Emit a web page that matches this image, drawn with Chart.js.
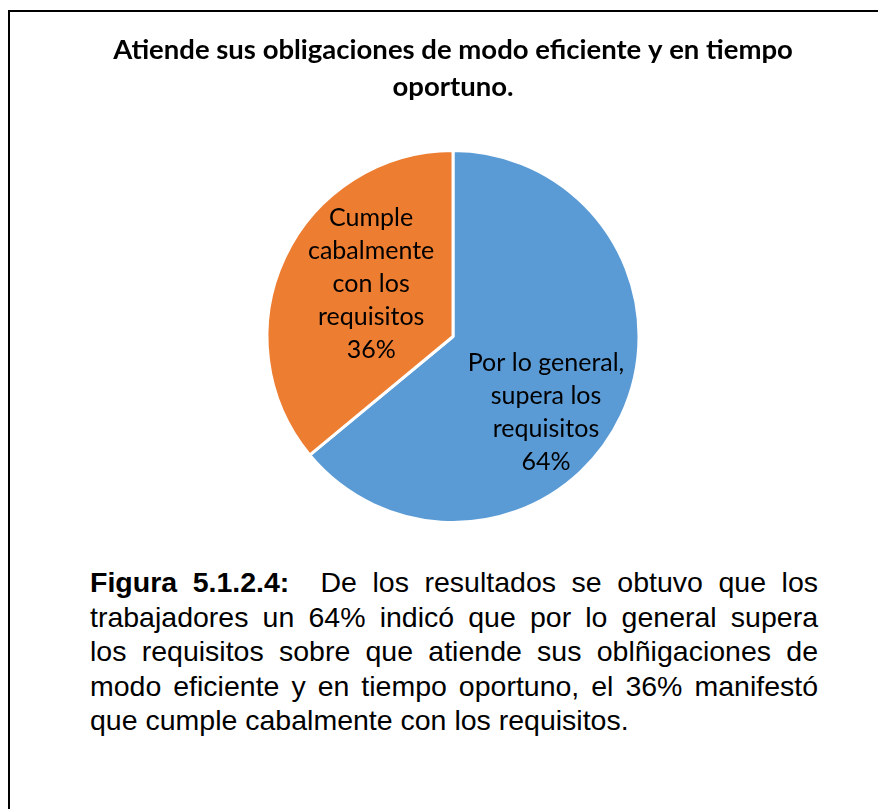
<!DOCTYPE html>
<html>
<head>
<meta charset="utf-8">
<script src="https://cdn.jsdelivr.net/npm/chart.js@4/dist/chart.umd.min.js"></script>
<style>
  html, body { margin: 0; padding: 0; background: #fff; overflow: hidden; width: 878px; height: 809px; }
  .frame { position: absolute; left: 8px; top: 10px; width: 900px; height: 900px; border: 2px solid #000; }
  #wrap { position: absolute; left: 10px; top: 12px; width: 880px; height: 540px; }
  .caption {
    position: absolute; left: 90px; top: 565px; width: 728px;
    font-family: "Liberation Sans", Arial, sans-serif; font-size: 28.5px; line-height: 34.5px;
    color: #000; white-space: nowrap;
  }
  .caption div { text-align: justify; text-align-last: justify; }
  .caption div.last { text-align: left; text-align-last: left; }
</style>
</head>
<body>
<div class="frame"></div>
<div id="wrap"><canvas id="pieChart"></canvas></div>
<div class="caption">
  <div><b>Figura 5.1.2.4:</b>&nbsp; De los resultados se obtuvo que los</div>
  <div>trabajadores un 64% indicó que por lo general supera</div>
  <div>los requisitos sobre que atiende sus oblñigaciones de</div>
  <div>modo eficiente y en tiempo oportuno, el 36% manifestó</div>
  <div class="last">que cumple cabalmente con los requisitos.</div>
</div>
<script>
document.addEventListener('DOMContentLoaded', () => {
    const titleLines = ['Atiende sus obligaciones de modo eficiente y en tiempo', 'oportuno.'];
    const labels = [['Por lo general,', 'supera los', 'requisitos'], ['Cumple', 'cabalmente', 'con los', 'requisitos']];
    const values = [64, 36];
    const colors = ['#5B9BD5', '#ED7D31'];

    // label placement relative to the pie, as fractions of the radius
    const labelOffsets = [[0.50, 0.41], [-0.44, -0.28]];

    const sliceLabels = {
        id: 'sliceLabels',
        afterDatasetsDraw(chart) {
            const ctx = chart.ctx;
            const meta = chart.getDatasetMeta(0);
            const total = values.reduce((a, b) => a + b, 0);
            ctx.save();
            ctx.font = '25px Lato, "Noto Sans", sans-serif';
            ctx.fillStyle = '#000';
            ctx.textAlign = 'center';
            ctx.textBaseline = 'middle';
            const lh = 33;
            meta.data.forEach((arc, i) => {
                const r = arc.outerRadius;
                const cx = arc.x + labelOffsets[i][0] * r;
                const cy = arc.y + labelOffsets[i][1] * r;
                const lines = labels[i].concat([Math.round(values[i] / total * 100) + '%']);
                const y0 = cy - (lines.length - 1) * lh / 2;
                lines.forEach((t, k) => ctx.fillText(t, cx, y0 + k * lh));
            });
            ctx.restore();
        }
    };

    new Chart(document.getElementById('pieChart').getContext('2d'), {
        type: 'pie',
        data: {
            labels: labels.map(l => l.join(' ')),
            datasets: [{
                data: values,
                backgroundColor: colors,
                borderColor: '#fff',
                borderWidth: 3
            }]
        },
        options: {
            responsive: true,
            maintainAspectRatio: false,
            animation: false,
            layout: { padding: { left: 6, bottom: 28 } },
            plugins: {
                legend: { display: false },
                tooltip: { enabled: false },
                title: {
                    display: true,
                    text: titleLines,
                    color: '#000',
                    font: { family: 'Lato, "Noto Sans", sans-serif', size: 27.5, weight: 'bold', lineHeight: 1.345 },
                    padding: { top: 20, bottom: 43 }
                }
            }
        },
        plugins: [sliceLabels]
    });
});
</script>
</body>
</html>
